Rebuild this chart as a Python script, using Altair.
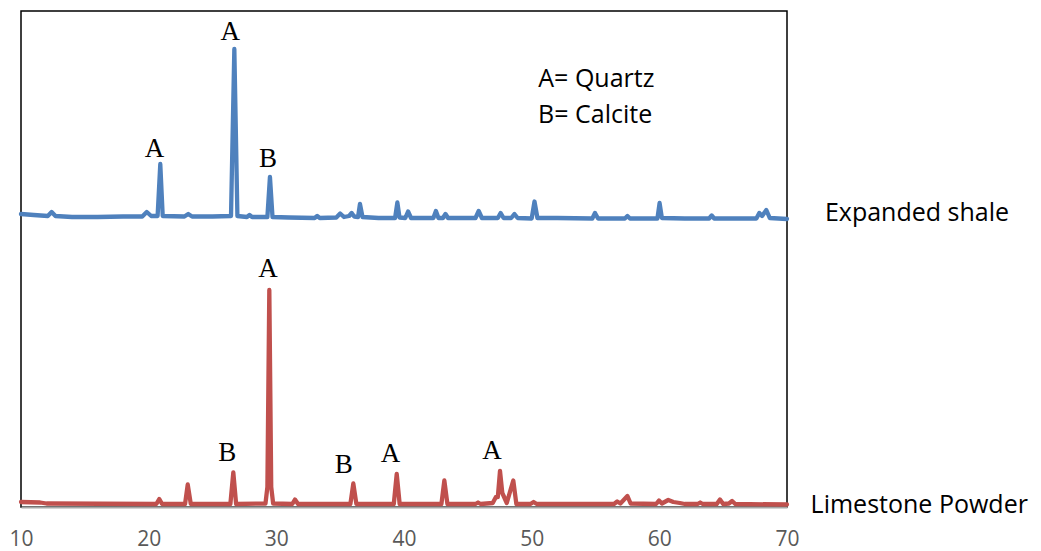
import altair as alt
import pandas as pd

# XRD patterns: 2-theta (degrees) and intensity (arbitrary units, shale trace offset upward)
shale_2theta = [10.0, 11.0, 12.1, 12.4, 12.7, 14.0, 16.0, 18.0, 19.5, 19.85, 20.2,
                20.7, 20.91, 21.1, 22.8, 23.1, 23.4, 25.0, 26.45, 26.71, 26.95,
                27.7, 27.9, 28.1, 29.3, 29.5, 29.7, 31.0, 33.0, 33.2, 33.4,
                34.7, 35.0, 35.3, 35.7, 35.9, 36.1, 36.4, 36.55, 36.75,
                38.0, 39.3, 39.48, 39.65, 40.1, 40.32, 40.55, 42.3, 42.5, 42.7,
                43.05, 43.25, 43.45, 45.6, 45.85, 46.1, 47.35, 47.57, 47.8,
                48.4, 48.65, 48.9, 50.0, 50.22, 50.45, 52.0, 54.75, 54.96, 55.2,
                57.3, 57.5, 57.7, 59.85, 60.02, 60.2, 62.0, 63.9, 64.1, 64.3,
                67.6, 67.83, 68.05, 68.38, 68.65, 70.0]
shale_intensity = [293, 292, 291, 295, 291, 290, 290, 290.5, 290.5, 295, 291,
                   291, 343, 291, 290.5, 293, 290.5, 290.5, 291, 458, 291,
                   290, 292, 290, 290, 330, 290, 289.5, 289, 291, 289,
                   289.5, 293.5, 290, 291, 294, 290.5, 290, 303, 290,
                   289, 289, 304.5, 289.5, 289, 295.5, 289, 289, 296, 289,
                   289, 293, 289, 289, 296, 289, 289, 294, 289,
                   289, 293, 289, 288.5, 305.5, 289, 289, 288.5, 294, 288.5,
                   288.5, 291, 288.5, 288.5, 304, 289, 288.5, 288.5, 291.5, 288.5,
                   288.5, 294, 291, 297, 289, 288]

limestone_2theta = [10.0, 11.5, 12.0, 20.6, 20.83, 21.05, 22.85, 23.06, 23.3,
                    26.4, 26.63, 26.85, 29.15, 29.3, 29.45, 29.6, 29.75,
                    31.25, 31.46, 31.7, 35.8, 36.03, 36.27, 39.2, 39.43, 39.66,
                    42.93, 43.16, 43.4, 45.6, 45.8, 46.0, 46.95, 47.2, 47.35,
                    47.52, 47.7, 48.05, 48.56, 48.8, 49.9, 50.15, 50.4,
                    56.45, 56.7, 56.95, 57.5, 57.75, 59.75, 59.97, 60.2, 60.7,
                    61.1, 61.6, 62.0, 63.0, 63.2, 63.4, 64.5, 64.75, 65.0,
                    65.45, 65.7, 65.95, 70.0]
limestone_intensity = [5, 4.5, 3.5, 3, 8, 3, 3, 22.5, 3,
                       3, 34.5, 3, 3.5, 20, 217, 20, 3.5,
                       3, 7.5, 3, 3, 23.5, 3, 3, 33, 3,
                       3, 26.5, 3, 3, 4.5, 3, 4, 10, 10,
                       36, 14, 4, 26.5, 3, 3, 5, 3,
                       3, 5.5, 3.5, 11, 3.5, 3, 6.5, 3.5, 7,
                       5, 4, 3, 3, 4.5, 3, 3, 7.5, 3,
                       3.5, 6, 3, 2.5]

# Phase labels above the peaks
peak_label_text = ["A", "A", "B", "A", "B", "B", "A", "A"]
peak_label_2theta = [20.45, 26.39, 29.35, 29.35, 26.15, 35.28, 38.94, 46.89]
peak_label_y = [350.3, 467, 339.7, 229.7, 46, 34.3, 45.3, 48]

# Key for the phase letters
key_text = ["A= Quartz", "B= Calcite"]
key_2theta = [50.52, 50.5]
key_y = [419.7, 383.7]

# Sample names beside each trace
sample_text = ["Expanded shale", "Limestone Powder"]
sample_2theta = [72.97, 71.85]
sample_y = [286.3, -6.3]

x_ticks = [10, 20, 30, 40, 50, 60, 70]

lines_df = pd.concat([
    pd.DataFrame({"two_theta": shale_2theta, "intensity": shale_intensity,
                  "sample": "Expanded shale"}),
    pd.DataFrame({"two_theta": limestone_2theta, "intensity": limestone_intensity,
                  "sample": "Limestone Powder"}),
], ignore_index=True)

peaks_df = pd.DataFrame({"two_theta": peak_label_2theta, "intensity": peak_label_y,
                         "label": peak_label_text})
key_df = pd.DataFrame({"two_theta": key_2theta, "intensity": key_y, "label": key_text})
sample_df = pd.DataFrame({"two_theta": sample_2theta, "intensity": sample_y,
                          "label": sample_text})

x_scale = alt.Scale(domain=[10, 70], nice=False, zero=False)
y_scale = alt.Scale(domain=[0, 496], nice=False, zero=False)

x_enc = alt.X("two_theta:Q", scale=x_scale,
              axis=alt.Axis(values=x_ticks, title=None, grid=False, ticks=False,
                            tickSize=0, labelPadding=38, labelBaseline="alphabetic",
                            labelFont="Open Sans", labelFontSize=21, labelColor="#595959",
                            domainColor="#A6A6A6", domainWidth=2, labelFlush=False))
y_enc = alt.Y("intensity:Q", scale=y_scale, axis=None)

traces = alt.Chart(lines_df).mark_line(
    strokeWidth=4.3, strokeJoin="round", strokeCap="round"
).encode(
    x=x_enc,
    y=y_enc,
    color=alt.Color("sample:N",
                    scale=alt.Scale(domain=["Expanded shale", "Limestone Powder"],
                                    range=["#4F81BD", "#C0504D"]),
                    legend=None),
    detail="sample:N",
)

peak_labels = alt.Chart(peaks_df).mark_text(
    font="Liberation Serif", fontSize=27, baseline="alphabetic", align="center",
    color="#000000"
).encode(x="two_theta:Q", y="intensity:Q", text="label:N")

key_labels = alt.Chart(key_df).mark_text(
    font="Open Sans", fontSize=25, baseline="alphabetic", align="left", color="#000000"
).encode(x="two_theta:Q", y="intensity:Q", text="label:N")

sample_labels = alt.Chart(sample_df).mark_text(
    font="Open Sans", fontSize=25, baseline="alphabetic", align="left", color="#000000"
).encode(x="two_theta:Q", y="intensity:Q", text="label:N")

chart = alt.layer(traces, peak_labels, key_labels, sample_labels).properties(
    width=766,
    height=496,
    autosize=alt.AutoSizeParams(type="none"),
    padding={"left": 21, "top": 11, "right": 254, "bottom": 44},
    background="#FFFFFF",
).configure_view(
    stroke="#000000", strokeWidth=1.5
)

chart.save("out.html", embed_options={"renderer": "svg", "actions": False})
